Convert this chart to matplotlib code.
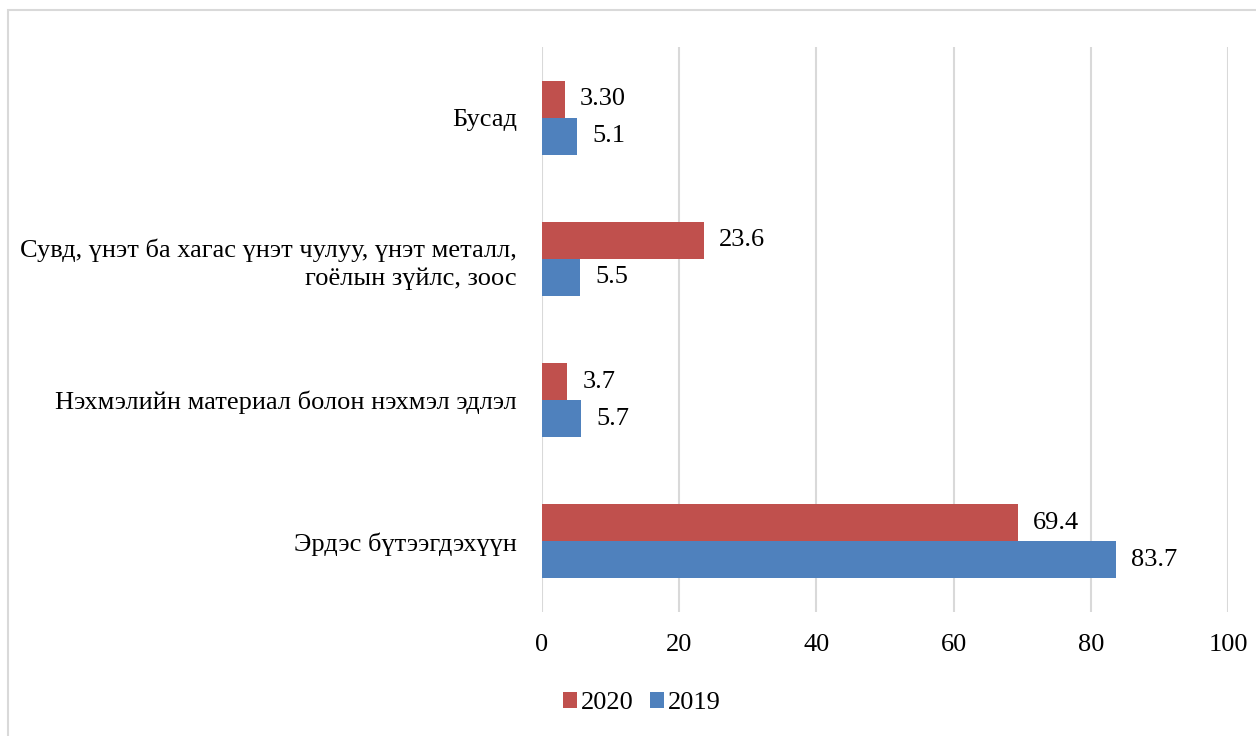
import numpy as np
import matplotlib.pyplot as plt
from matplotlib.patches import Rectangle

plt.rcParams['font.family'] = ['Liberation Serif', 'DejaVu Serif']

# өгөгдөл (доороос дээш)
categories = ["Эрдэс бүтээгдэхүүн",
              "Нэхмэлийн материал болон нэхмэл эдлэл",
              "Сувд, үнэт ба хагас үнэт чулуу, үнэт металл,\nгоёлын зүйлс, зоос",
              "Бусад"]
vals_2020 = [69.4, 3.7, 23.6, 3.30]
vals_2019 = [83.7, 5.7, 5.5, 5.1]
labels_2020 = ["69.4", "3.7", "23.6", "3.30"]
labels_2019 = ["83.7", "5.7", "5.5", "5.1"]

red = '#C0504D'
blue = '#4F81BD'
fs = 19

fig = plt.figure(figsize=(12.56, 7.36), dpi=100)
ax = fig.add_axes([542/1256, 1 - 612/736, (1228-542)/1256, (612-47)/736])

y = np.arange(len(categories))
h = 0.262
b1 = ax.barh(y + h/2, vals_2020, height=h, color=red, label='2020')
b2 = ax.barh(y - h/2, vals_2019, height=h, color=blue, label='2019')

for bars, labs in ((b1, labels_2020), (b2, labels_2019)):
    for bar, lab in zip(bars, labs):
        ax.annotate(lab, (bar.get_width(), bar.get_y() + bar.get_height()/2),
                    xytext=(11, 0), textcoords='offset points',
                    va='center', ha='left', fontsize=fs)

ax.set_xlim(0, 100)
ax.set_ylim(-0.5, 3.5)
ax.set_xticks(np.arange(0, 101, 20))
ax.set_yticks(y)
ax.set_yticklabels(categories, fontsize=fs, ha='right', multialignment='right',
                   linespacing=1.35)
ax.tick_params(axis='x', labelsize=fs, length=0, pad=16)
ax.tick_params(axis='y', length=0, pad=18)
ax.grid(axis='x', color='#D9D9D9', linewidth=1.5)
ax.set_axisbelow(True)
for s in ax.spines.values():
    s.set_visible(False)

fig.legend(handles=[b1, b2], loc='center', bbox_to_anchor=(642/1256, 1 - 703/736),
           ncol=2, frameon=False, fontsize=fs, handlelength=0.55, handleheight=0.55,
           handletextpad=0.15, columnspacing=0.6)

# рамка
fig.patches.append(Rectangle((8/1256, -0.1), 1.2, 1.1 - 10/736, transform=fig.transFigure,
                             fill=False, edgecolor='#D9D9D9', linewidth=1.5))

fig.savefig('out.png', dpi=100)
